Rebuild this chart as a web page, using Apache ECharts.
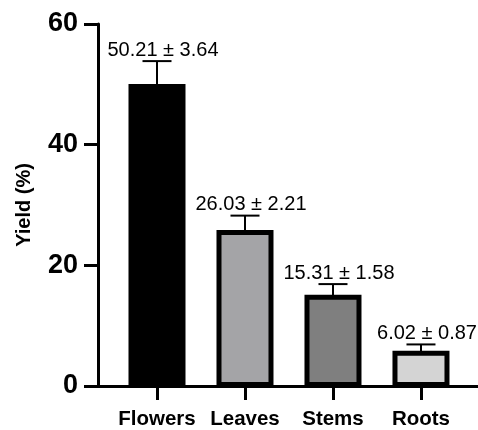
<!DOCTYPE html>
<html>
<head>
<meta charset="utf-8">
<script src="https://cdn.jsdelivr.net/npm/echarts@6/dist/echarts.min.js"></script>
<style>
html,body{margin:0;padding:0;background:#fff;}
#chart{width:478px;height:430px;}
</style>
</head>
<body>
<div id="chart"></div>
<script>
const categories = ['Flowers', 'Leaves', 'Stems', 'Roots'];
const means = [50.21, 26.03, 15.31, 6.02];
const sds = [3.64, 2.21, 1.58, 0.87];
const yTicks = [0, 20, 40, 60];

const fills = ['#000000', '#a4a4a7', '#7f7f7f', '#d4d4d4'];
const positions = categories.map((c, i) => i + 1);
const seriesData = means.map((v, i) => [positions[i], v, sds[i]]);

const chart = echarts.init(document.getElementById('chart'), null, {renderer: 'canvas'});
const FONT = '"Liberation Sans", Arial, sans-serif';

chart.setOption({
  animation: false,
  backgroundColor: '#ffffff',
  grid: {left: 98, right: 0, top: 24, bottom: 42, containLabel: false},
  xAxis: {
    type: 'value',
    min: 0.3295,
    max: 4.648,
    axisLine: {show: true, onZero: false, lineStyle: {color: '#000', width: 3}},
    axisTick: {show: true, customValues: positions, length: 14, lineStyle: {color: '#000', width: 3}},
    axisLabel: {
      show: true, customValues: positions, margin: 23,
      formatter: v => categories[Math.round(v) - 1] || '',
      color: '#000', fontFamily: FONT, fontWeight: 'bold', fontSize: 20.5
    },
    splitLine: {show: false}
  },
  yAxis: {
    type: 'value',
    min: yTicks[0],
    max: yTicks[yTicks.length - 1],
    interval: 20,
    name: 'Yield (%)',
    nameLocation: 'middle',
    nameGap: 64,
    nameTextStyle: {color: '#000', fontFamily: FONT, fontWeight: 'bold', fontSize: 20},
    axisLine: {show: true, onZero: false, lineStyle: {color: '#000', width: 3}},
    axisTick: {show: true, length: 14, lineStyle: {color: '#000', width: 3}},
    axisLabel: {color: '#000', fontFamily: FONT, fontWeight: 'bold', fontSize: 27, margin: 20},
    splitLine: {show: false}
  },
  series: [
    {
      type: 'custom',
      clip: false,
      data: seriesData,
      z: 3,
      renderItem: function (params, api) {
        const x = api.value(0), v = api.value(1);
        const top = api.coord([x, v]);
        const base = api.coord([x, 0]);
        const outerW = 57, bw = 5;
        return {
          type: 'rect',
          shape: {
            x: top[0] - outerW / 2 + bw / 2,
            y: top[1] + bw / 2 + 1,
            width: outerW - bw,
            height: base[1] - 1.5 - (top[1] + bw / 2 + 1)
          },
          style: {fill: fills[params.dataIndex], stroke: '#000', lineWidth: bw}
        };
      }
    },
    {
      type: 'custom',
      clip: false,
      data: seriesData,
      z: 4,
      renderItem: function (params, api) {
        const x = api.value(0), v = api.value(1), e = api.value(2);
        const top = api.coord([x, v]);
        const et = api.coord([x, v + e]);
        const capW = 29;
        return {
          type: 'group',
          children: [
            {type: 'line', shape: {x1: top[0], y1: top[1] + 3, x2: et[0], y2: et[1]}, style: {stroke: '#000', lineWidth: 2}},
            {type: 'line', shape: {x1: et[0] - capW / 2, y1: et[1], x2: et[0] + capW / 2, y2: et[1]}, style: {stroke: '#000', lineWidth: 2}},
            {
              type: 'text',
              x: et[0] + 6,
              y: et[1] - 1,
              style: {
                text: v.toFixed(2) + ' \u00b1 ' + e.toFixed(2),
                fill: '#000',
                font: '20px ' + FONT,
                align: 'center',
                verticalAlign: 'bottom'
              }
            }
          ]
        };
      }
    }
  ]
});
</script>
</body>
</html>
